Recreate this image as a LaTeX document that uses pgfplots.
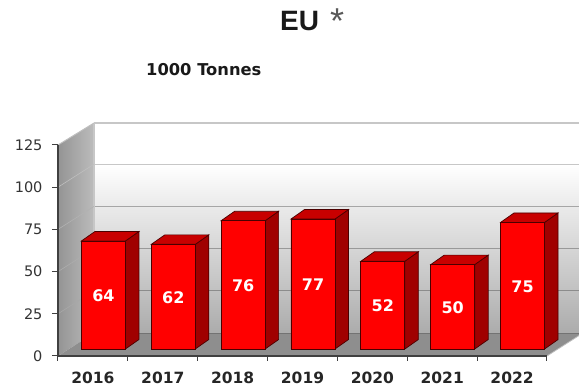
\documentclass[border=0pt]{standalone}
\usepackage{pgfplots}
\usepackage{fontspec}
\pgfplotsset{compat=1.18}
\setmainfont{DejaVu Sans}
\newfontfamily\titlefont{Liberation Sans}
\definecolor{barred}{HTML}{FF0000}
\definecolor{bartop}{HTML}{C80000}
\definecolor{barside}{HTML}{A00000}
\definecolor{baredge}{HTML}{4A0000}
\definecolor{floorc}{HTML}{8E8E8E}
\definecolor{wallbot}{HTML}{ACACAC}
\definecolor{sideL}{HTML}{949494}
\definecolor{sideR}{HTML}{BCBCBC}
\definecolor{axc}{HTML}{404040}
\newcommand{\barfaces}[2]{%
  \pgfmathsetmacro{\xa}{#1-0.315}%
  \pgfmathsetmacro{\xb}{#1+0.315}%
  \pgfmathsetmacro{\xc}{#1+0.315+0.193}%
  \pgfmathsetmacro{\xd}{#1-0.315+0.193}%
  \pgfmathsetmacro{\yt}{#2+5.6}%
  \addplot[fill=barside,draw=baredge,line width=0.7pt,xshift=10.5pt,yshift=7pt]
    coordinates {(\xb,0) (\xc,5.6) (\xc,\yt) (\xb,#2)} -- cycle;
  \addplot[fill=bartop,draw=baredge,line width=0.7pt,xshift=10.5pt,yshift=7pt]
    coordinates {(\xa,#2) (\xb,#2) (\xc,\yt) (\xd,\yt)} -- cycle;
}
\begin{document}
\begin{tikzpicture}
\path[use as bounding box] (0pt,0pt) rectangle (579pt,390pt);
\begin{axis}[
  at={(58pt,34pt)}, anchor=south west,
  scale only axis, width=489pt, height=211pt,
  xmin=-0.5, xmax=6.5, ymin=0, ymax=125,
  clip=false, axis on top,
  axis x line*=bottom, axis y line*=left,
  axis line style={draw=axc,line width=1.4pt,-},
  xtick={0,1,2,3,4,5,6},
  xticklabels={2016,2017,2018,2019,2020,2021,2022},
  minor xtick={-0.5,0.5,1.5,2.5,3.5,4.5,5.5,6.5},
  ytick={0,25,50,75,100,125},
  major x tick style={draw=none},
  minor x tick style={draw=axc,line width=1pt},
  major y tick style={draw=axc,line width=1pt},
  tick align=outside, major tick length=6pt, minor tick length=5pt,
  xticklabel style={font=\fontsize{15.5}{16}\selectfont\bfseries,text=black!85,yshift=-6pt},
  yticklabel style={font=\fontsize{14.5}{16}\selectfont,text=black!80,xshift=-6pt},
  /pgf/number format/assume math mode=true,
]
% back wall
\addplot[fill=white,draw=none] coordinates {(0.015,100) (6.958,100) (6.958,138) (0.015,138)} -- cycle;
\addplot[top color=white,bottom color=wallbot,draw=none] coordinates {(0.015,13.6) (6.958,13.6) (6.958,113.6) (0.015,113.6)} -- cycle;
% left wall
\addplot[left color=sideL,right color=sideR,draw=none] coordinates {(-0.5,0) (0.015,13.6) (0.015,138) (-0.5,125)} -- cycle;
% wall grid
\addplot[draw=black!22,line width=1.2pt] coordinates {(0.015,138) (6.958,138)};
\addplot[draw=black!22,line width=1.2pt] coordinates {(0.015,113.6) (6.958,113.6)};
\addplot[draw=black!35,line width=1pt] coordinates {(0.015,88.6) (6.958,88.6)};
\addplot[draw=black!40,line width=1pt] coordinates {(0.015,63.6) (6.958,63.6)};
\addplot[draw=black!45,line width=1pt] coordinates {(0.015,38.6) (6.958,38.6)};
\addplot[draw=black!22,line width=1.2pt] coordinates {(0.015,13.6) (0.015,138)};
\addplot[draw=white!75!black,line width=0.6pt] coordinates {(-0.5,100) (0.015,113.6)};
\addplot[draw=white!70!black,line width=0.6pt] coordinates {(-0.5,75) (0.015,88.6)};
\addplot[draw=white!68!black,line width=0.6pt] coordinates {(-0.5,50) (0.015,63.6)};
\addplot[draw=white!66!black,line width=0.6pt] coordinates {(-0.5,25) (0.015,38.6)};
\addplot[draw=black!25,line width=1pt] coordinates {(-0.5,125) (0.015,138)};
% floor
\addplot[fill=floorc,draw=none] coordinates {(-0.5,0) (6.5,0) (6.958,12.1) (6.958,13.6) (0.015,13.6)} -- cycle;
\addplot[draw=black!55,line width=0.8pt] coordinates {(0.015,13.6) (6.958,13.6)};
\addplot[draw=black!25,line width=0.8pt] coordinates {(6.5,0) (6.958,12.1)};
% bars: side and top faces
\barfaces{0}{64}
\barfaces{1}{62}
\barfaces{2}{76}
\barfaces{3}{77}
\barfaces{4}{52}
\barfaces{5}{50}
\barfaces{6}{75}
% bars: front faces
\addplot[ybar,bar width=44pt,fill=barred,draw=baredge,line width=0.9pt,xshift=10.5pt,yshift=7pt]
  coordinates {(0,64) (1,62) (2,76) (3,77) (4,52) (5,50) (6,75)};
% labels inside the bars
\addplot[draw=none,mark=none,xshift=10.5pt,yshift=7pt,
  point meta=explicit symbolic,
  nodes near coords,
  nodes near coords align={center},
  every node near coord/.append style={text=white,font=\fontsize{16}{16}\selectfont\bfseries,yshift=-1pt}]
  coordinates {(0,32)[64] (1,31)[62] (2,38)[76] (3,38.5)[77] (4,26)[52] (5,25)[50] (6,37.5)[75]};
\end{axis}
\node[anchor=base west,inner sep=0pt,font=\titlefont\fontsize{28}{30}\selectfont\bfseries,text=black!90] at (280pt,359pt) {EU};
\node[anchor=base west,inner sep=0pt,font=\titlefont\fontsize{36}{36}\selectfont,text=black!65] at (330pt,356pt) {*};
\node[anchor=base west,inner sep=0pt,font=\fontsize{16.3}{16}\selectfont\bfseries,text=black!90] at (146pt,314pt) {1000 Tonnes};
\end{tikzpicture}
\end{document}
